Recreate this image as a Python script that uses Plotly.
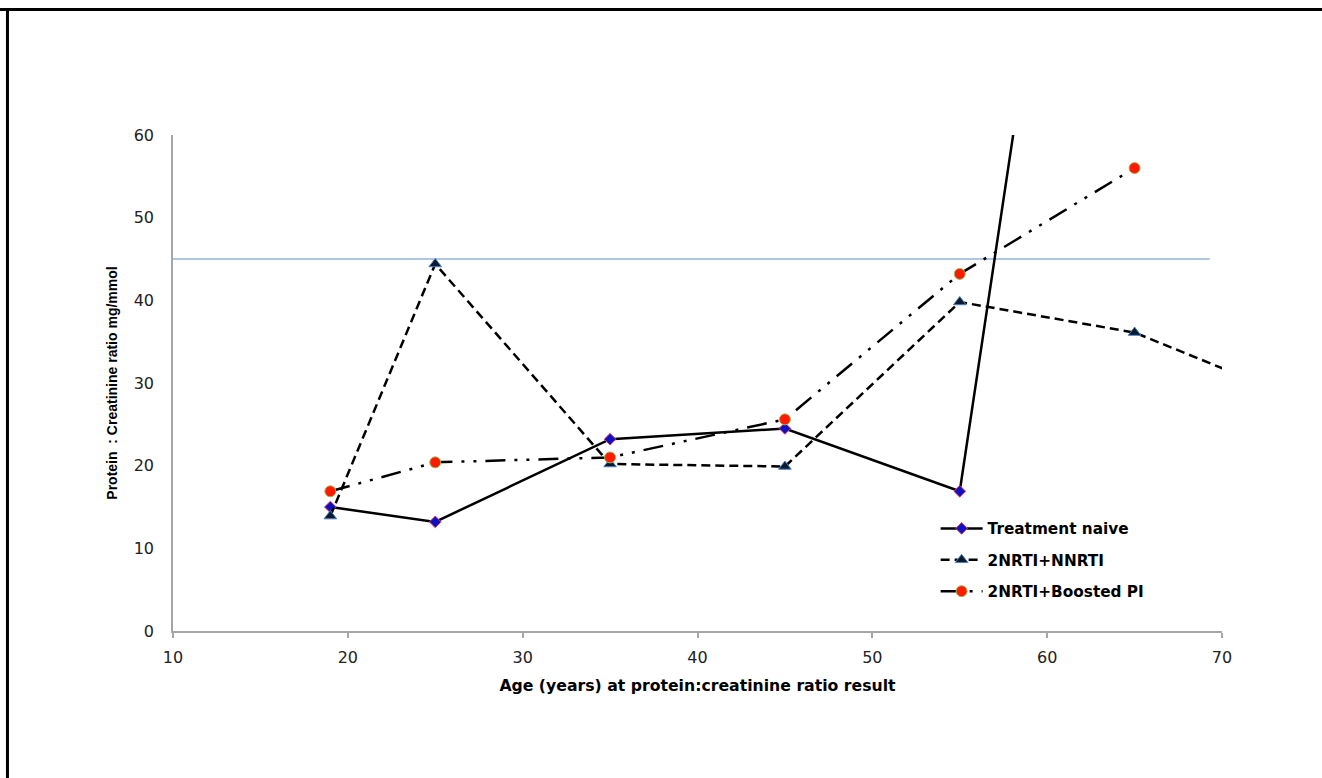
import plotly.graph_objects as go

# Data
age_naive = [19, 25, 35, 45, 55, 65]
naive = [15.0, 13.2, 23.2, 24.5, 16.9, 158]

age_nnrti = [19, 25, 35, 45, 55, 65, 75]
nnrti = [13.9, 44.4, 20.2, 19.9, 39.8, 36.1, 27.5]

age_pi = [19, 25, 35, 45, 55, 65]
boosted_pi = [16.9, 20.4, 21.0, 25.6, 43.2, 56.0]

threshold = 45
threshold_x = [10, 69.3]

x_ticks = [10, 20, 30, 40, 50, 60, 70]
y_ticks = [0, 10, 20, 30, 40, 50, 60]

WIDE = "DejaVu Sans, Verdana, sans-serif"
NARROW = "Liberation Sans, Arial, sans-serif"

fig = go.Figure()

fig.add_trace(go.Scatter(
    x=threshold_x, y=[threshold, threshold], mode="lines",
    line=dict(color="#95b3d7", width=1.5), showlegend=False, hoverinfo="skip"))

fig.add_trace(go.Scatter(
    x=age_naive, y=naive, mode="lines+markers", name="Treatment naive",
    legendgroup="a",
    line=dict(color="black", width=2.5),
    marker=dict(symbol="diamond", size=9, color="#1010c0",
                line=dict(color="#e04060", width=1))))

fig.add_trace(go.Scatter(
    x=age_nnrti, y=nnrti, mode="lines+markers", name="2NRTI+NNRTI",
    legendgroup="b",
    line=dict(color="black", width=2.5, dash="9px,5px"),
    marker=dict(symbol="triangle-up", size=11, color="#0a1a30",
                line=dict(color="#4f81bd", width=1))))

fig.add_trace(go.Scatter(
    x=age_pi, y=boosted_pi, mode="lines+markers", name="2NRTI+Boosted PI",
    legendgroup="c",
    line=dict(color="black", width=2.5, dash="20px,9px,3px,9px,3px,9px"),
    marker=dict(symbol="circle", size=11, color="#ff1a00",
                line=dict(color="#9bbb59", width=1))))

fig.update_layout(
    width=1322, height=778,
    margin=dict(l=173, r=100, t=135, b=147, autoexpand=False),
    paper_bgcolor="white", plot_bgcolor="white",
    font=dict(family=WIDE, color="#222222"),
    legend=dict(x=0.727, y=0.24, xanchor="left", yanchor="top",
                font=dict(size=15.3, family=WIDE, weight="bold", color="black"),
                tracegroupgap=8.5, itemwidth=42, bgcolor="rgba(0,0,0,0)"),
    shapes=[
        dict(type="line", xref="paper", yref="paper",
             x0=-0.17, x1=1.2, y0=1.253, y1=1.253,
             line=dict(color="black", width=3)),
        dict(type="line", xref="paper", yref="paper",
             x0=-0.1578, x1=-0.1578, y0=-0.4, y1=1.256,
             line=dict(color="black", width=3)),
    ],
)

fig.update_xaxes(
    range=[10, 70], tickvals=x_ticks, showgrid=False, zeroline=False,
    showline=True, linecolor="#a6a6a6", linewidth=1.5,
    ticks="outside", ticklen=5, tickcolor="#a6a6a6", tickwidth=1.5,
    ticklabelstandoff=6,
    tickfont=dict(size=16, family=WIDE, color="#222222"),
    title=dict(text="Age (years) at protein:creatinine ratio result",
               font=dict(size=15.7, family=WIDE, weight="bold", color="black"),
               standoff=14))

fig.update_yaxes(
    range=[0, 60], tickvals=y_ticks, showgrid=False, zeroline=False,
    showline=True, linecolor="#a6a6a6", linewidth=1.5,
    ticks="", ticklabelstandoff=14,
    tickfont=dict(size=16, family=WIDE, color="#222222"),
    title=dict(text="Protein  : Creatinine ratio mg/mmol",
               font=dict(size=14, family=NARROW, weight="bold", color="black"),
               standoff=13))

fig.write_html("out.html", config={"displayModeBar": False},
               post_script="document.body.style.margin='0px';")
